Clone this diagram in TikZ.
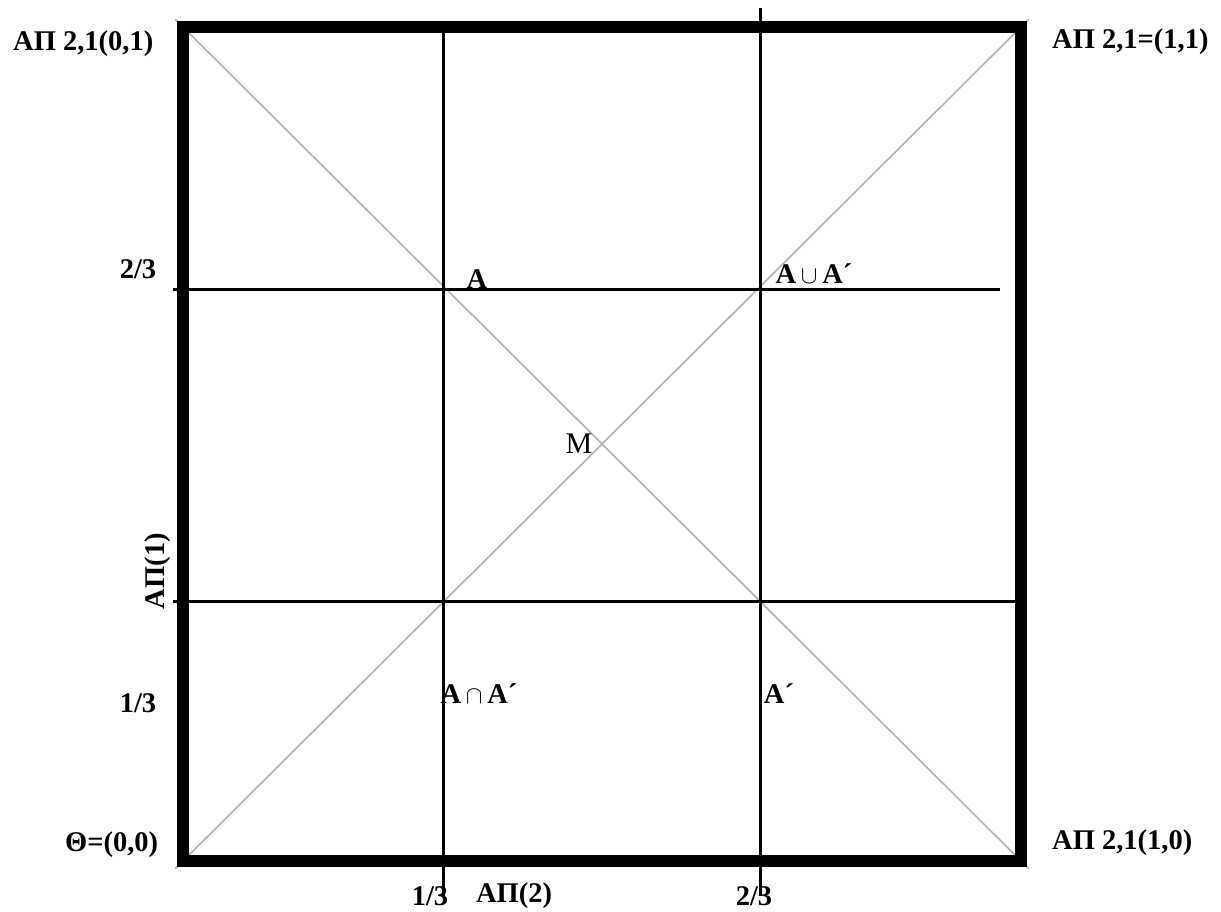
\documentclass[tikz,border=0pt]{standalone}
\usepackage{fontspec}
\setmainfont{Liberation Serif}
\usetikzlibrary{positioning}

\begin{document}
\begin{tikzpicture}[x=1pt,y=-1pt,
  lbl/.style={font=\bfseries\fontsize{28.5}{30}\selectfont,inner sep=0pt},
  rule/.style={line width=3pt},
  diag/.style={draw=black!30,line width=1.6pt,shorten <=-11pt,shorten >=-11pt}]
  \useasboundingbox (0,0) rectangle (1221,911);
  % corners of the square
  \coordinate (O)   at (183,861);
  \coordinate (P10) at (1021,861);
  \coordinate (P11) at (1021,27);
  \coordinate (P01) at (183,27);
  \draw[diag] (O) -- (P11);
  \draw[diag] (P01) -- (P10);
  \draw[line width=12pt] (O) rectangle (P11);
  % grid lines at 1/3 and 2/3
  \coordinate (v1t) at (443,33);  \coordinate (v1b) at (443,896);
  \coordinate (v2t) at (760,8);   \coordinate (v2b) at (760,896);
  \coordinate (h2l) at (173,289); \coordinate (h2r) at (1000,289);
  \coordinate (h1l) at (173,601); \coordinate (h1r) at (1015,601);
  \draw[rule] (v1t) -- (v1b);
  \draw[rule] (v2t) -- (v2b);
  \draw[rule] (h2l) -- (h2r);
  \draw[rule] (h1l) -- (h1r);
  % labels
  \node[lbl,anchor=west] (c01) at (13,44)   {ΑΠ 2,1(0,1)};
  \node[lbl,anchor=west] (c11) at (1052,42) {ΑΠ 2,1=(1,1)};
  \node[lbl,anchor=west] (c00) at (65,845)  {Θ=(0,0)};
  \node[lbl,anchor=west] (c10) at (1052,843) {ΑΠ 2,1(1,0)};
  \node[lbl] (y23) at (138,269) {2/3};
  \node[lbl] (y13) at (138,703) {1/3};
  \node[lbl,rotate=90] (ap1) at (158,571) {ΑΠ(1)};
  \node[lbl] (x13) at (430,896) {1/3};
  \node[lbl] (ap2) at (514,896) {ΑΠ(2)};
  \node[lbl] (x23) at (754,896) {2/3};
  \node[lbl] (a)   at (477,279) {A};
  \node[lbl] (auni) at (814,274) {A\,$\cup$\,A´};
  \node[lbl] (aint) at (479,694) {A\,$\cap$\,A´};
  \node[lbl] (ac)  at (779,694) {A´};
  \node[font=\fontsize{30}{32}\selectfont,inner sep=0pt] (m) at (579,444) {M};
\end{tikzpicture}
\end{document}
